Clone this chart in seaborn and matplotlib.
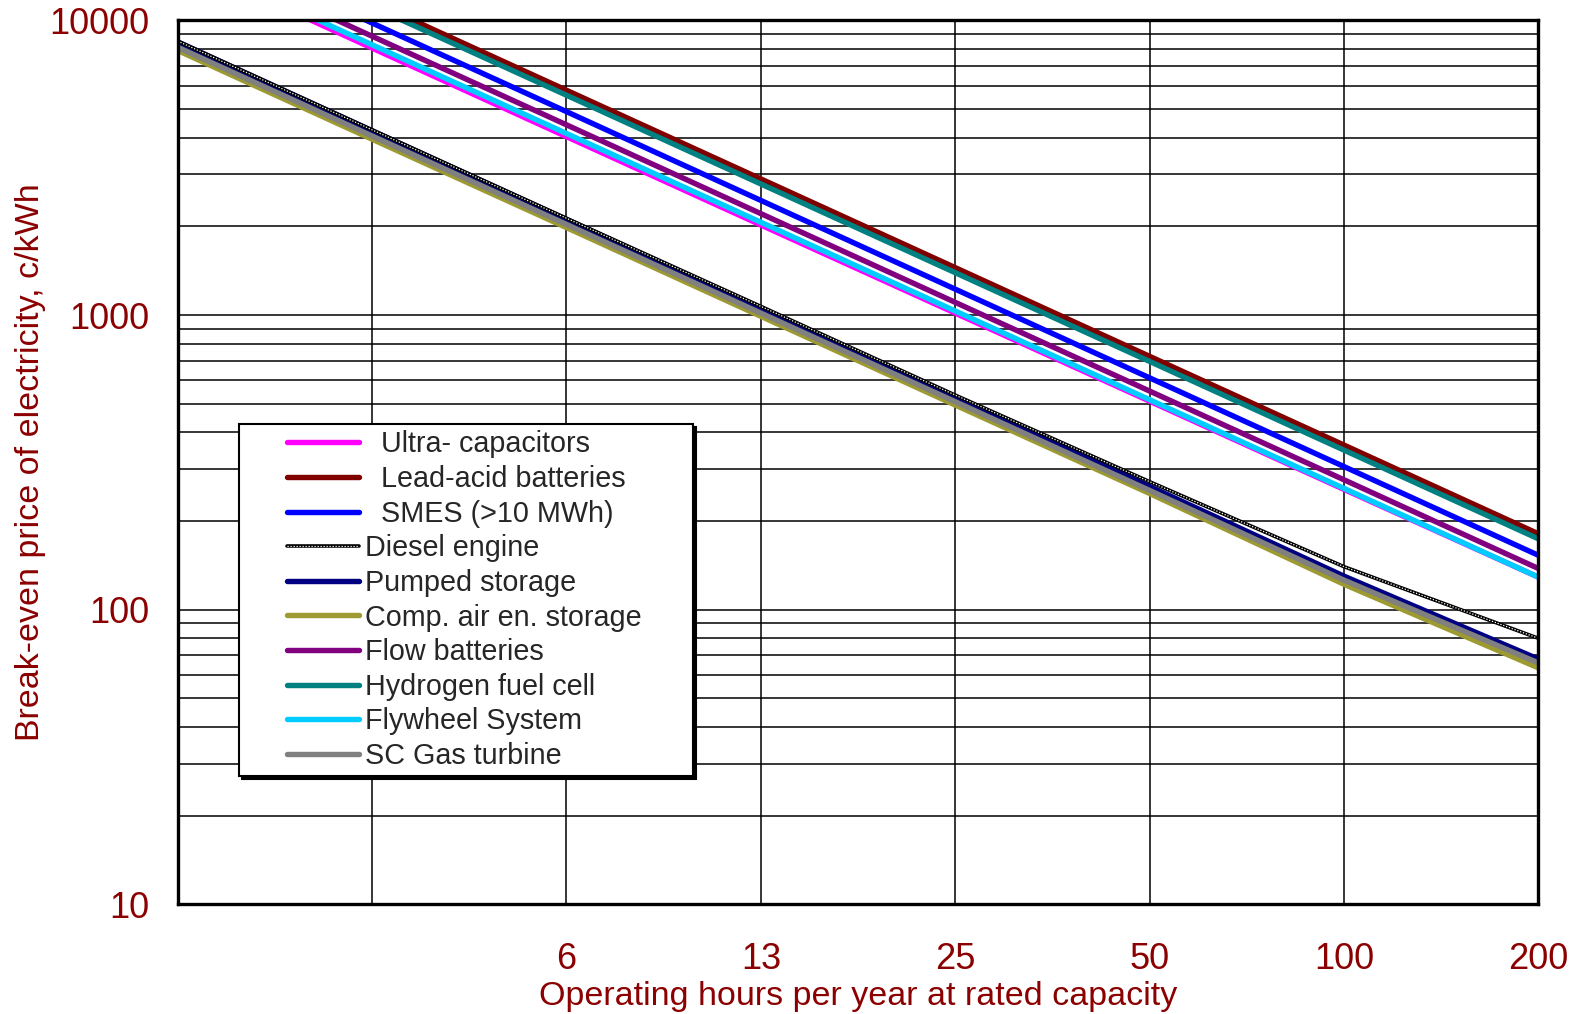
import matplotlib
matplotlib.use("Agg")
import matplotlib.pyplot as plt
import numpy as np
import pandas as pd
import seaborn as sns
from matplotlib.lines import Line2D
from matplotlib.legend_handler import HandlerTuple
from matplotlib.ticker import FixedLocator, LogLocator, NullFormatter

# Operating hours per year at rated capacity (each step doubles)
hours = [1.5625, 3.125, 6.25, 12.5, 25, 50, 100, 200]
hour_labels = ["", "", "6", "13", "25", "50", "100", "200"]

# Break-even price of electricity, c/kWh, at each operating-hours value
ultra_capacitors = [16100, 8050, 4030, 2020, 1015, 510, 256, 129]
lead_acid = [23170, 11580, 5790, 2896, 1448, 724, 362, 181]
smes = [19580, 9790, 4900, 2448, 1224, 612, 306, 153]
diesel = [8500, 4250, 2130, 1070, 535, 272, 140, 80]
pumped_storage = [8450, 4220, 2110, 1055, 525, 262, 130, 68]
caes = [7900, 3950, 1980, 990, 495, 248, 122, 63.5]
flow_batteries = [17660, 8830, 4420, 2208, 1104, 552, 276, 138]
hydrogen_fc = [22270, 11140, 5570, 2784, 1392, 696, 348, 174]
flywheel = [16510, 8260, 4130, 2064, 1032, 516, 258, 129]
gas_turbine = [8100, 4050, 2030, 1015, 508, 254, 126, 66]

series_names = [
    "  Ultra- capacitors",
    "  Lead-acid batteries",
    "  SMES (>10 MWh)",
    "Diesel engine",
    "Pumped storage",
    "Comp. air en. storage",
    "Flow batteries",
    "Hydrogen fuel cell",
    "Flywheel System",
    "SC Gas turbine",
]
series_values = [
    ultra_capacitors, lead_acid, smes, diesel, pumped_storage,
    caes, flow_batteries, hydrogen_fc, flywheel, gas_turbine,
]
series_colors = [
    "#ff00ff", "#800000", "#0000ff", "#000000", "#000080",
    "#9c9a30", "#800080", "#008080", "#00ccff", "#808080",
]

sns.set_theme(style="white")
plt.rcParams["font.family"] = ["Liberation Sans", "DejaVu Sans"]

label_red = "#8b0000"

df = pd.DataFrame(
    [(name, h, v) for name, vals in zip(series_names, series_values)
     for h, v in zip(hours, vals)],
    columns=["series", "hours", "price"],
)

fig = plt.figure(figsize=(15.86, 10.14), dpi=100)
ax = fig.add_axes([0.112, 0.108, 0.858, 0.872])

lw = 3.9
dot_style = (0, (1, 1.4))
handles = []
for name, color in zip(series_names, series_colors):
    sub = df[df["series"] == name]
    if name == "Diesel engine":
        sns.lineplot(data=sub, x="hours", y="price", color="black", lw=2.6,
                     ax=ax, legend=False, zorder=4)
        sns.lineplot(data=sub, x="hours", y="price", color="white", lw=0.9,
                     linestyle=dot_style, ax=ax, legend=False, zorder=5)
        h_black = Line2D([], [], color="black", lw=2.6)
        h_white = Line2D([], [], color="white", lw=0.9, linestyle=dot_style)
        handles.append((h_black, h_white))
    else:
        sns.lineplot(data=sub, x="hours", y="price", color=color, lw=lw,
                     ax=ax, legend=False, zorder=3)
        handles.append(Line2D([], [], color=color, lw=lw,
                              solid_capstyle="round"))

ax.set_xscale("log", base=2)
ax.set_yscale("log")
ax.set_xlim(hours[0], hours[-1])
ax.set_ylim(10, 10000)

ax.xaxis.set_major_locator(FixedLocator(hours))
ax.set_xticklabels(hour_labels)
ax.xaxis.set_minor_locator(FixedLocator([]))
ax.yaxis.set_minor_locator(LogLocator(base=10, subs=np.arange(2, 10), numticks=20))
ax.yaxis.set_minor_formatter(NullFormatter())
ax.set_yticks([10, 100, 1000, 10000])
ax.set_yticklabels(["10", "100", "1000", "10000"])

ax.grid(which="major", axis="both", color="black", lw=1.1)
ax.grid(which="minor", axis="y", color="black", lw=1.1)
ax.set_axisbelow(True)

for sp in ax.spines.values():
    sp.set_color("black")
    sp.set_linewidth(2.4)
    sp.set_zorder(6)

ax.tick_params(axis="both", which="major", direction="out", length=8,
               width=2.2, color="black", labelsize=26, labelcolor=label_red)
ax.tick_params(axis="x", which="major", pad=19)
ax.tick_params(axis="y", which="major", pad=12)
ax.tick_params(axis="y", which="minor", length=0)

ax.set_xlabel("Operating hours per year at rated capacity", fontsize=24.5,
              color=label_red, labelpad=3)
ax.set_ylabel("Break-even price of electricity, c/kWh", fontsize=24.5,
              color=label_red, labelpad=3)

leg = ax.legend(
    handles, series_names, loc="lower left",
    bbox_to_anchor=(0.045, 0.145, 0.334, 0.4), mode="expand",
    fontsize=20.7, frameon=True, fancybox=False,
    shadow={"color": "black", "alpha": 1.0},
    handlelength=3.95, handletextpad=0.22, labelspacing=0.23, borderpad=0.22,
    borderaxespad=0, handler_map={tuple: HandlerTuple(ndivide=1)},
)
leg.get_frame().set_edgecolor("black")
leg.get_frame().set_linewidth(1.5)
leg.get_frame().set_facecolor("white")
leg.set_zorder(10)

# Keep the legend sample lines in the right part of the handle slot
for ln in leg.findobj(Line2D):
    xd = np.asarray(ln.get_xdata(), dtype=float)
    if xd.size >= 2:
        x0, x1 = xd[0], xd[-1]
        ln.set_xdata(np.linspace(x0 + 0.37 * (x1 - x0), x1, xd.size))

fig.savefig("out.png", dpi=100)
